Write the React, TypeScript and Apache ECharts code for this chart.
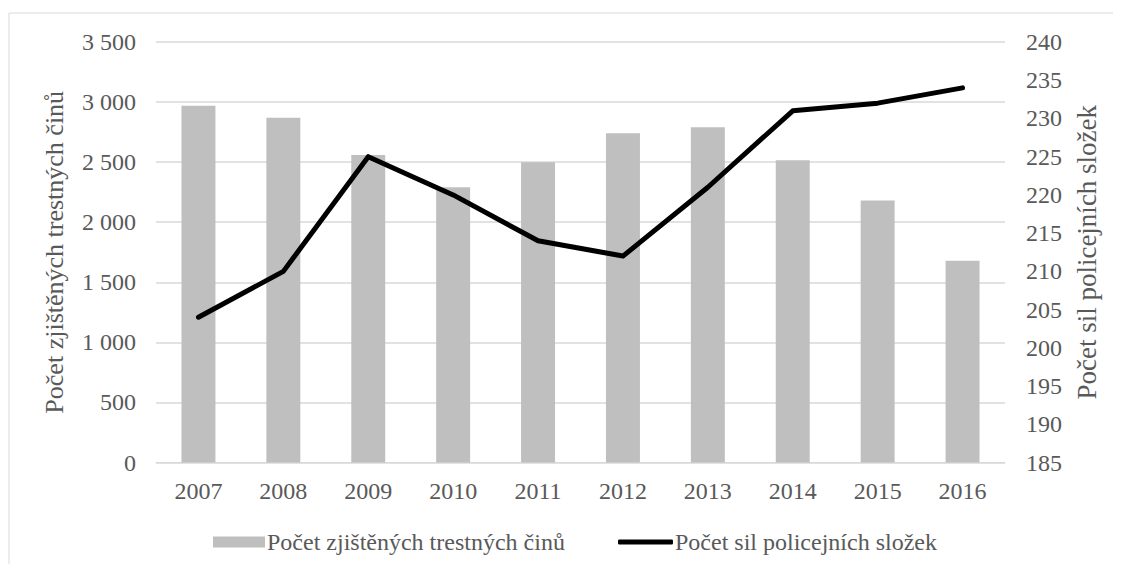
import React, { useEffect, useRef } from "react";
import * as echarts from "echarts";

const years = ["2007", "2008", "2009", "2010", "2011", "2012", "2013", "2014", "2015", "2016"];
const crimes = [2970, 2870, 2560, 2290, 2500, 2740, 2790, 2515, 2180, 1680];
const police = [204, 210, 225, 220, 214, 212, 221, 231, 232, 234];
const barName = "Počet zjištěných trestných činů";
const lineName = "Počet sil policejních složek";

const FONT = "Liberation Serif";
const TXT = "#595959";

const fmt = (v: number) => {
  const s = String(Math.round(v));
  return s.replace(/\B(?=(\d{3})+(?!\d))/g, " ");
};

export default function App() {
  const ref = useRef<HTMLDivElement>(null);
  useEffect(() => {
    if (!ref.current) return;
    const chart = echarts.init(ref.current, undefined, { renderer: "svg" });
    chart.setOption({
      animation: false,
      backgroundColor: "#ffffff",
      textStyle: { fontFamily: FONT },
      graphic: [
        {
          type: "rect",
          shape: { x: 1, y: 5, width: 1200, height: 700 },
          style: { fill: "none", stroke: "#d9d9d9", lineWidth: 1 },
          silent: true,
        },
      ],
      grid: { left: 148, right: 108, top: 34, bottom: 101.5 },
      legend: [
        {
          left: 205,
          top: 522,
          padding: 0,
          itemWidth: 52,
          itemHeight: 11,
          textStyle: { fontFamily: FONT, fontSize: 24, color: TXT, padding: [0, 0, 0, -3] },
          data: [{ name: barName, icon: "rect" }],
        },
        {
          left: 610,
          top: 522,
          padding: 0,
          itemWidth: 55,
          itemHeight: 5,
          textStyle: { fontFamily: FONT, fontSize: 24, color: TXT, padding: [0, 0, 0, -3] },
          data: [{ name: lineName, icon: "roundRect", itemStyle: { color: "#000000" } }],
        },
      ],
      xAxis: {
        type: "category",
        data: years,
        axisLine: { lineStyle: { color: "#d9d9d9", width: 1 } },
        axisTick: { show: false },
        axisLabel: { color: TXT, fontSize: 24, fontFamily: FONT, margin: 16 },
      },
      yAxis: [
        {
          type: "value",
          min: 0,
          max: 3500,
          interval: 500,
          name: barName,
          nameLocation: "middle",
          nameRotate: 90,
          nameGap: 89,
          nameTextStyle: { color: TXT, fontSize: 26, fontFamily: FONT },
          axisLine: { show: false },
          axisTick: { show: false },
          splitLine: { lineStyle: { color: "#d9d9d9", width: 1.5 } },
          axisLabel: { color: TXT, fontSize: 24, fontFamily: FONT, margin: 20, formatter: fmt },
        },
        {
          type: "value",
          min: 185,
          max: 240,
          interval: 5,
          position: "right",
          name: lineName,
          nameLocation: "middle",
          nameRotate: 90,
          nameGap: 68,
          nameTextStyle: { color: TXT, fontSize: 27, fontFamily: FONT },
          axisLine: { show: false },
          axisTick: { show: false },
          splitLine: { show: false },
          axisLabel: { color: TXT, fontSize: 24, fontFamily: FONT, margin: 21 },
        },
      ],
      series: [
        {
          name: barName,
          type: "bar",
          data: crimes,
          yAxisIndex: 0,
          barWidth: "40%",
          itemStyle: { color: "#bfbfbf" },
        },
        {
          name: lineName,
          type: "line",
          data: police,
          yAxisIndex: 1,
          symbol: "none",
          lineStyle: { color: "#000000", width: 5, cap: "round", join: "round" },
          itemStyle: { color: "#000000" },
        },
      ],
    });
    return () => chart.dispose();
  }, []);
  return <div ref={ref} style={{ width: 1105, height: 556 }} />;
}
